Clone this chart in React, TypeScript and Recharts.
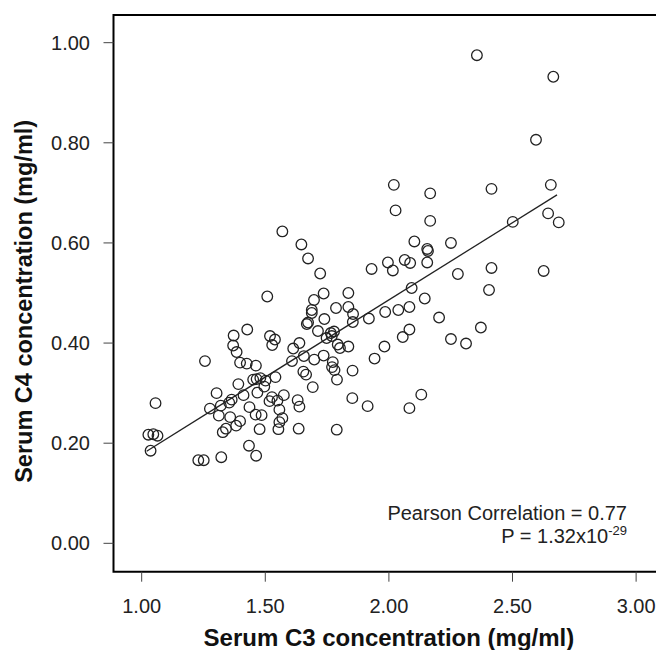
import React from 'react';
import {
  ScatterChart,
  Scatter,
  XAxis,
  YAxis,
  ReferenceArea,
  ReferenceLine,
  Label,
} from 'recharts';

// serum C3 (x) and C4 (y), mg/ml
const c3 = [
  2.356, 2.665, 2.595, 2.02, 2.167, 2.415, 2.655,
  2.027, 2.167, 1.569, 2.644, 2.687, 2.501, 1.646, 1.673, 1.722, 2.103,
  2.155, 2.158, 2.251, 1.996, 2.064, 2.086, 2.155, 1.93, 2.016, 2.279,
  2.415, 2.626, 2.092, 2.405, 1.508, 1.736, 1.836, 1.697, 2.145, 1.786,
  1.836, 1.688, 1.688, 1.855, 2.083, 2.038, 1.985, 1.919, 2.203, 1.739,
  1.668, 1.673, 1.854, 1.713, 1.765, 1.778, 1.769, 1.748, 2.083, 2.056,
  2.372, 2.251, 2.312, 1.372, 1.427, 1.519, 1.539, 1.528, 1.37, 1.384,
  1.638, 1.613, 1.793, 1.802, 1.836, 1.982, 1.656, 1.736, 1.698, 1.608,
  1.942, 1.256, 1.398, 1.425, 1.462, 1.773, 1.77, 1.78, 1.654, 1.665,
  1.853, 1.79, 1.451, 1.465, 1.48, 1.501, 1.541, 1.496, 1.391, 1.692,
  1.303, 1.412, 1.468, 1.364, 1.354, 1.527, 1.575, 1.631, 1.852, 2.131,
  1.056, 1.276, 1.32, 1.312, 1.358, 1.398, 1.382, 1.341, 1.328, 1.436,
  1.461, 1.485, 1.517, 1.549, 1.557, 1.569, 1.557, 1.553, 1.477, 1.638,
  1.635, 1.789, 1.914, 2.083, 1.027, 1.047, 1.064, 1.036, 1.434, 1.463,
  1.229, 1.251, 1.322,
];
const c4 = [
  0.975, 0.932, 0.806, 0.716, 0.699, 0.708, 0.716,
  0.665, 0.644, 0.623, 0.659, 0.641, 0.642, 0.597, 0.569, 0.539, 0.603,
  0.588, 0.584, 0.6, 0.561, 0.566, 0.56, 0.561, 0.548, 0.545, 0.538,
  0.55, 0.544, 0.51, 0.506, 0.493, 0.499, 0.5, 0.486, 0.489, 0.47,
  0.472, 0.466, 0.46, 0.458, 0.472, 0.466, 0.462, 0.449, 0.451, 0.448,
  0.438, 0.441, 0.442, 0.424, 0.42, 0.423, 0.414, 0.41, 0.427, 0.412,
  0.431, 0.408, 0.399, 0.415, 0.427, 0.414, 0.407, 0.396, 0.395, 0.382,
  0.4, 0.389, 0.397, 0.39, 0.393, 0.393, 0.374, 0.375, 0.367, 0.364,
  0.369, 0.364, 0.361, 0.359, 0.355, 0.362, 0.352, 0.346, 0.343, 0.337,
  0.345, 0.327, 0.327, 0.328, 0.33, 0.325, 0.332, 0.313, 0.318, 0.312,
  0.3, 0.296, 0.301, 0.287, 0.281, 0.292, 0.296, 0.286, 0.29, 0.297,
  0.28, 0.269, 0.275, 0.255, 0.252, 0.244, 0.235, 0.229, 0.222, 0.272,
  0.257, 0.256, 0.284, 0.285, 0.267, 0.25, 0.242, 0.228, 0.228, 0.273,
  0.229, 0.227, 0.274, 0.27, 0.217, 0.218, 0.215, 0.185, 0.195, 0.175,
  0.166, 0.166, 0.172,
];

// fitted line end points
const fitStart = { x: 1.02, y: 0.184 };
const fitEnd = { x: 2.68, y: 0.696 };

const xTicks = [1, 1.5, 2, 2.5, 3];
const yTicks = [0, 0.2, 0.4, 0.6, 0.8, 1];
const xDomain = [0.886, 3.114];
const yDomain = [-0.0567, 1.0553];

const points = c3.map((x, i) => ({ x, y: c4[i] }));

const font = '"Liberation Sans", Arial, sans-serif';

const Ring = (props: any) => (
  <circle cx={props.cx} cy={props.cy} r={5.3} fill="none" stroke="#222" strokeWidth={1.3} />
);

export default function App() {
  return (
    <div style={{ position: 'absolute', left: 0, top: 0, width: 656, height: 650, overflow: 'hidden', background: '#fff' }}>
      <ScatterChart
        width={700}
        height={650}
        margin={{ top: 15, right: 35.7, bottom: 0, left: 0 }}
        style={{ fontFamily: font }}
      >
        <XAxis
          type="number"
          dataKey="x"
          domain={xDomain}
          ticks={xTicks}
          allowDataOverflow
          height={78.3}
          axisLine={false}
          tickSize={10}
          tickMargin={17}
          tickLine={{ stroke: '#444' }}
          tick={{ fill: '#222', fontSize: 20 }}
          tickFormatter={(v: number) => v.toFixed(2)}
        >
          <Label
            value="Serum C3 concentration (mg/ml)"
            position="insideBottom"
            offset={4.5}
            style={{ fontSize: 24, fontWeight: 'bold', fill: '#111' }}
          />
        </XAxis>
        <YAxis
          type="number"
          dataKey="y"
          domain={yDomain}
          ticks={yTicks}
          allowDataOverflow
          width={113.5}
          axisLine={false}
          tickSize={10}
          tickMargin={13.5}
          tickLine={{ stroke: '#444' }}
          tick={{ fill: '#222', fontSize: 20 }}
          tickFormatter={(v: number) => v.toFixed(2)}
          label={{
            content: (p: any) => {
              const vb = p.viewBox;
              const cy = vb.y + vb.height / 2 + 8;
              return (
                <text
                  x={32}
                  y={cy}
                  transform={`rotate(-90, 32, ${cy})`}
                  textAnchor="middle"
                  fontSize={23.5}
                  fontWeight="bold"
                  fill="#111"
                >
                  Serum C4 concentration (mg/ml)
                </text>
              );
            },
          }}
        />
        <ReferenceArea
          x1={xDomain[0]}
          x2={xDomain[1]}
          y1={yDomain[0]}
          y2={yDomain[1]}
          fill="none"
          stroke="#000"
          strokeWidth={2}
          ifOverflow="visible"
          label={{
            content: (p: any) => {
              const vb = p.viewBox;
              const right = vb.x + vb.width - 37.3;
              return (
                <g fontSize={20} fill="#222" textAnchor="end">
                  <text x={right} y={520}>Pearson Correlation = 0.77</text>
                  <text x={right} y={543}>
                    P = 1.32x10<tspan dy={-8} fontSize={13}>-29</tspan>
                  </text>
                </g>
              );
            },
          }}
        />
        <ReferenceLine
          segment={[fitStart, fitEnd]}
          stroke="#222"
          strokeWidth={1.3}
          ifOverflow="visible"
        />
        <Scatter data={points} shape={Ring} isAnimationActive={false} />
      </ScatterChart>
    </div>
  );
}
